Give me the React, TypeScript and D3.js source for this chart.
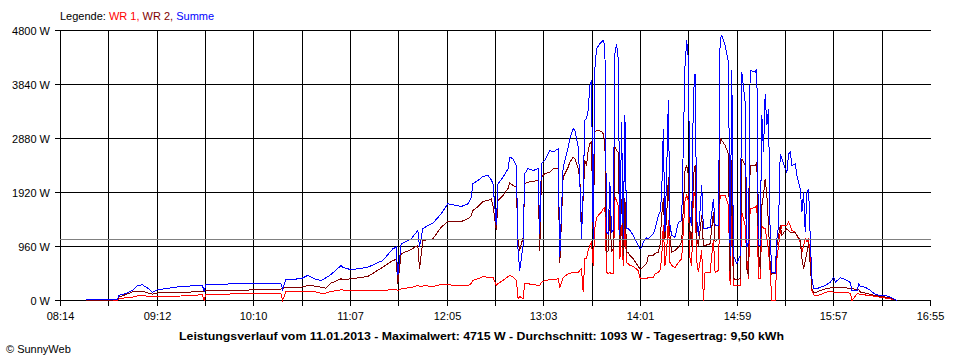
import React from "react";
import * as d3 from "d3";

// ---- data (time of day, watts) ----
const times = [
  "08:29","08:38","08:48","08:49","08:53","08:57","09:00","09:03","09:06","09:09",
  "09:12","09:16","09:26","09:38","09:39","09:40","09:41","09:58","10:10","10:26",
  "10:27","10:29","10:38","10:42","10:46","10:50","10:53","10:56","11:02","11:03",
  "11:08","11:18","11:27","11:33","11:35","11:36","11:38","11:44","11:48","11:49",
  "11:51","11:54","11:57","12:02","12:06","12:09","12:14","12:18","12:20","12:21",
  "12:24","12:27","12:30","12:32","12:33","12:35","12:36","12:39","12:42","12:43",
  "12:45","12:47","12:48","12:49","12:51","12:52","12:54","12:57","13:00","13:01",
  "13:02","13:04","13:07","13:09","13:12","13:13","13:15","13:18","13:19","13:21",
  "13:22","13:24","13:25","13:26","13:27","13:28","13:29","13:30","13:31","13:32",
  "13:33","13:34","13:35","13:37","13:38","13:39","13:40","13:41","13:42","13:43",
  "13:44","13:45","13:46","13:47","13:48","13:49","13:50","13:51","13:52","13:53",
  "13:54","13:55","13:57","14:00","14:01","14:02","14:03","14:05","14:06","14:09",
  "14:10","14:12","14:13","14:14","14:15","14:16","14:17","14:18","14:19","14:20",
  "14:22","14:24","14:26","14:28","14:29","14:30","14:31","14:32","14:33","14:34",
  "14:35","14:36","14:38","14:39","14:40","14:43","14:45","14:46","14:48","14:49",
  "14:50","14:52","14:54","14:55","14:56","14:57","14:59","15:01","15:02","15:04",
  "15:05","15:06","15:07","15:10","15:11","15:12","15:13","15:14","15:15","15:16",
  "15:17","15:18","15:19","15:20","15:22","15:23","15:24","15:25","15:26","15:28",
  "15:29","15:30","15:31","15:32","15:34","15:35","15:37","15:38","15:39","15:40",
  "15:41","15:42","15:43","15:44","15:45","15:47","15:49","15:52","15:55","15:57",
  "15:58","16:01","16:03","16:05","16:07","16:08","16:11","16:12","16:13","16:16",
  "16:19","16:22","16:25","16:28","16:31","16:34","16:35"
];

const summe = [
  10,20,20,90,125,178,267,279,226,148,
  190,208,249,267,267,160,279,297,297,302,
  196,373,386,445,386,356,404,462,622,592,
  546,592,711,919,948,445,1008,1097,1245,948,
  1275,1334,1374,1542,1719,1701,1671,1719,1837,2075,
  2134,2205,2222,2146,2075,1334,2075,2192,2342,2548,
  2519,2400,889,533,978,2253,2347,2311,2342,1191,
  2436,2489,2667,2637,2697,770,2370,2726,2880,3053,
  3023,2726,2134,1102,1926,3200,3236,3378,3823,3912,
  1102,4120,4475,4564,4593,4623,4534,1214,1186,2103,
  1214,1245,4386,4564,4297,1156,3170,1102,3289,1275,
  1275,1245,1156,978,919,948,1037,1115,1097,1186,
  1275,1511,1570,1867,3053,1214,2281,3556,1334,1156,
  1125,1392,1422,4178,4623,4297,1453,1334,3645,4031,
  1453,1156,2045,1275,1275,1303,1808,1334,1334,4653,
  4715,4534,4237,800,4089,800,653,800,4059,3526,
  948,1037,4089,4059,4120,978,978,3289,2637,3675,
  3112,3408,1097,503,490,1097,1334,2608,2519,2342,
  2281,2608,2637,2400,2431,2222,1986,1570,1926,1214,
  1926,1986,1097,386,208,208,237,267,325,414,
  325,404,386,356,320,169,169,297,249,237,
  178,107,89,89,59,12,0
];

const wr2 = [
  0,5,10,60,105,151,165,165,137,112,
  133,137,142,160,160,160,172,178,190,204,
  213,236,236,267,258,236,219,308,386,373,
  386,427,592,711,729,297,830,907,978,564,
  1067,1082,1097,1303,1405,1405,1405,1453,1511,1600,
  1671,1760,1778,1808,1689,1245,1778,1867,1991,2086,
  2045,2014,1067,889,1120,2075,2103,2116,2134,889,
  2187,2258,2281,2342,2342,658,2192,2370,2459,2548,
  2519,2347,2169,1334,1808,2489,2400,2667,2786,2815,
  1097,2992,3023,3014,3005,2964,2815,859,889,1600,
  859,919,2726,2667,2637,1037,1808,800,1814,853,
  859,800,741,605,564,564,605,653,800,800,
  836,859,978,1500,1814,1097,1511,2192,1156,859,
  889,948,1037,2311,2400,2222,1214,978,2222,2400,
  1097,978,1511,978,978,1008,1570,1037,1097,2875,
  2845,2756,2608,386,2489,386,373,386,2519,2400,
  564,445,2400,2400,2459,859,564,1689,1867,2164,
  1867,1334,622,470,490,978,1156,1334,1156,1245,
  1275,1245,1214,1214,1214,1156,1067,741,564,711,
  859,1037,622,208,148,148,178,208,222,226,
  226,236,231,222,208,208,196,196,148,133,
  107,89,71,62,48,12,0
];

const wr1 = [
  0,0,0,30,48,59,80,89,76,71,
  71,71,80,101,101,0,112,116,121,124,
  0,160,151,165,160,130,133,160,190,187,
  178,178,178,196,204,178,208,231,267,249,
  258,258,249,284,293,267,267,267,302,356,
  386,427,409,409,414,267,302,356,427,445,
  414,356,36,71,36,297,297,284,267,267,
  320,356,368,373,386,237,409,475,480,503,
  498,503,533,569,160,747,747,889,978,1031,
  622,1280,1476,1547,1570,1630,1659,503,475,500,
  475,475,1837,1778,1689,741,1334,622,1387,676,
  653,622,605,533,409,386,386,386,409,414,
  475,498,533,747,1334,622,889,1422,676,622,
  587,676,741,1778,1867,1778,741,622,1926,1867,
  700,503,889,0,503,503,1097,503,533,1867,
  1867,1867,1689,267,1565,267,267,267,1570,1334,
  741,386,1630,1659,1689,386,386,1334,1280,1275,
  1097,889,503,0,0,741,978,1214,1334,1334,
  1334,1392,1334,1245,1214,1156,1037,859,978,1097,
  1037,1097,741,178,98,89,101,148,160,148,
  148,148,142,137,130,0,116,116,107,98,
  89,71,59,44,30,12,0
];

const yTicks = [0, 960, 1920, 2880, 3840, 4800];
const xTickLabels = ["08:14","09:12","10:10","11:07","12:05","13:03","14:01","14:59","15:57","16:55"];
const startTime = "08:14";
const endTime = "16:55";
const gridIntervals = 18;
const average = 1093;
const titleText =
  "Leistungsverlauf vom 11.01.2013 - Maximalwert: 4715 W - Durchschnitt: 1093 W - Tagesertrag: 9,50 kWh";

const toMin = (s: string) => +s.slice(0, 2) * 60 + +s.slice(3, 5);
const crisp = (v: number) => Math.round(v - 0.5) + 0.5;

const FONT = "'Liberation Sans', Arial, sans-serif";

export default function App() {
  const t0 = toMin(startTime);
  const t1 = toMin(endTime);
  const x = d3.scaleLinear().domain([t0, t1]).range([60.5, 930.5]);
  const y = d3.scaleLinear().domain([0, 4800]).range([300.5, 30.5]);

  const mins = times.map(toMin);
  const mk = (vals: number[]) =>
    d3
      .line<number>()
      .x((_, i) => x(mins[i]))
      .y((v) => y(v))(vals) || "";

  const gridX = d3.range(gridIntervals + 1).map((i) => crisp(x(t0 + (i * (t1 - t0)) / gridIntervals)));
  const yAvg = crisp(y(average));

  return (
    <svg
      width={960}
      height={360}
      style={{ position: "absolute", left: 0, top: 0, background: "#fff" }}
      fontFamily={FONT}
    >
      <rect x={0} y={0} width={960} height={360} fill="#fff" />
      {/* legend */}
      <text x={60} y={20} fontSize={11}>
        <tspan fill="#000">Legende: </tspan>
        <tspan fill="#ff0000">WR 1, </tspan>
        <tspan fill="#800000">WR 2, </tspan>
        <tspan fill="#0000ff">Summe</tspan>
      </text>

      {/* horizontal grid + y ticks */}
      {yTicks.map((v) => {
        const yy = crisp(y(v));
        return (
          <g key={v}>
            <line x1={55} x2={931} y1={yy} y2={yy} stroke="#000" shapeRendering="crispEdges" />
            <text x={50} y={yy + 4} fontSize={11} textAnchor="end">
              {v} W
            </text>
          </g>
        );
      })}

      {/* vertical grid + x ticks */}
      {gridX.map((gx, i) => (
        <line
          key={i}
          x1={gx}
          x2={gx}
          y1={i === gridIntervals ? 300 : 30}
          y2={306}
          stroke="#000"
          shapeRendering="crispEdges"
        />
      ))}
      {xTickLabels.map((lab, k) => (
        <text key={lab} x={gridX[k * 2]} y={320} fontSize={11} textAnchor="middle">
          {lab}
        </text>
      ))}

      {/* series */}
      <path d={mk(wr1)} fill="none" stroke="#ff0000" strokeWidth={1} shapeRendering="crispEdges" />
      <path d={mk(wr2)} fill="none" stroke="#800000" strokeWidth={1} shapeRendering="crispEdges" />
      <path d={mk(summe)} fill="none" stroke="#0000ff" strokeWidth={1} shapeRendering="crispEdges" />

      {/* average line */}
      <line x1={60} x2={931} y1={yAvg} y2={yAvg} stroke="#808080" shapeRendering="crispEdges" />

      {/* title */}
      <text x={179} y={340} fontSize={11} fontWeight="bold" textLength={605} lengthAdjust="spacingAndGlyphs">
        {titleText}
      </text>
      <text x={6} y={353} fontSize={11}>
        © SunnyWeb
      </text>
    </svg>
  );
}
